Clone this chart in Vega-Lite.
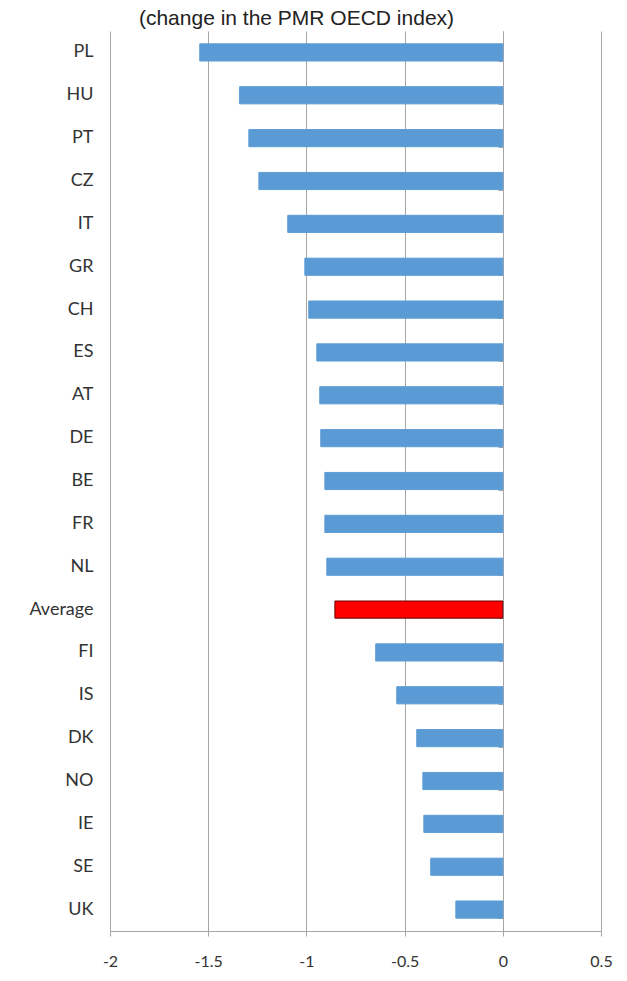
{
  "$schema": "https://vega.github.io/schema/vega-lite/v6.json",
  "autosize": "none",
  "width": 491,
  "height": 900,
  "padding": {"left": 110, "top": 31, "right": 26, "bottom": 50},
  "background": "white",
  "title": {
    "text": "(change in the PMR OECD index)",
    "font": "Liberation Sans",
    "fontSize": 21,
    "fontWeight": "normal",
    "color": "#222222",
    "anchor": "start",
    "dx": 110,
    "dy": 23,
    "baseline": "bottom",
    "offset": 4
  },
  "config": {
    "view": {"stroke": null},
    "axis": {"labelColor": "#404040", "gridColor": "#a6a6a6", "domainColor": "#a6a6a6", "tickColor": "#a6a6a6"}
  },
  "data": {
    "values": [
      {"country": "PL", "value": -1.543, "group": "country"},
      {"country": "HU", "value": -1.34, "group": "country"},
      {"country": "PT", "value": -1.293, "group": "country"},
      {"country": "CZ", "value": -1.242, "group": "country"},
      {"country": "IT", "value": -1.095, "group": "country"},
      {"country": "GR", "value": -1.008, "group": "country"},
      {"country": "CH", "value": -0.988, "group": "country"},
      {"country": "ES", "value": -0.947, "group": "country"},
      {"country": "AT", "value": -0.932, "group": "country"},
      {"country": "DE", "value": -0.927, "group": "country"},
      {"country": "BE", "value": -0.906, "group": "country"},
      {"country": "FR", "value": -0.906, "group": "country"},
      {"country": "NL", "value": -0.896, "group": "country"},
      {"country": "Average", "value": -0.855, "group": "average"},
      {"country": "FI", "value": -0.647, "group": "country"},
      {"country": "IS", "value": -0.54, "group": "country"},
      {"country": "DK", "value": -0.438, "group": "country"},
      {"country": "NO", "value": -0.407, "group": "country"},
      {"country": "IE", "value": -0.402, "group": "country"},
      {"country": "SE", "value": -0.367, "group": "country"},
      {"country": "UK", "value": -0.239, "group": "country"}
    ]
  },
  "layer": [
    {
      "mark": {"type": "bar", "strokeWidth": 1},
      "encoding": {
        "y": {
          "field": "country",
          "type": "nominal",
          "sort": null,
          "scale": {"paddingInner": 0.6, "paddingOuter": 0.3},
          "axis": {
            "title": null,
            "domain": false,
            "ticks": false,
            "grid": false,
            "labelFont": "Lato",
            "labelFontSize": 18,
            "labelColor": "#333333",
            "labelPadding": 17
          }
        },
        "x": {
          "field": "value",
          "type": "quantitative",
          "scale": {"domain": [-2, 0.5], "nice": false, "zero": false},
          "axis": {
            "title": null,
            "values": [-2, -1.5, -1, -0.5, 0, 0.5],
            "labelExpr": "'' + datum.value",
            "grid": true,
            "gridWidth": 1,
            "domain": true,
            "ticks": true,
            "tickSize": 5,
            "labelFont": "Lato",
            "labelFontSize": 16,
            "labelColor": "#333333",
            "labelPadding": 17,
            "labelFlush": false
          }
        },
        "color": {
          "field": "group",
          "type": "nominal",
          "scale": {"domain": ["country", "average"], "range": ["#5b9bd5", "#ff0000"]},
          "legend": null
        },
        "stroke": {
          "field": "group",
          "type": "nominal",
          "scale": {"domain": ["country", "average"], "range": ["#5b9bd5", "#6b0000"]},
          "legend": null
        }
      }
    },
    {
      "mark": {"type": "bar", "opacity": 0},
      "encoding": {
        "y": {
          "field": "country",
          "type": "nominal",
          "sort": null,
          "axis": {
            "orient": "right",
            "offset": -98,
            "title": null,
            "labels": false,
            "domain": true,
            "ticks": true,
            "tickBand": "extent",
            "tickSize": -5,
            "grid": false
          }
        },
        "x": {"field": "value", "type": "quantitative"}
      }
    }
  ],
  "resolve": {"axis": {"y": "independent"}}
}
